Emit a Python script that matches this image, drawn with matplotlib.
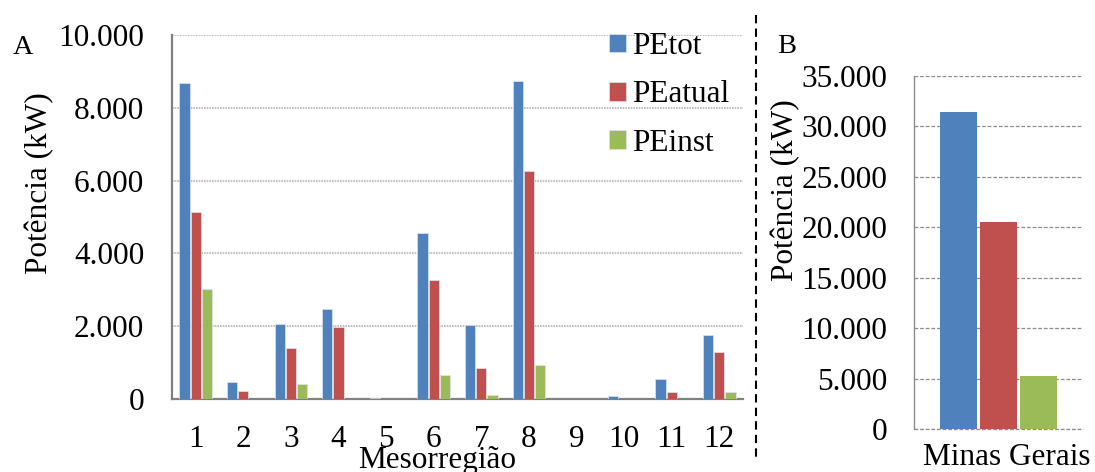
import numpy as np
import matplotlib
matplotlib.use("Agg")
import matplotlib.pyplot as plt
import matplotlib.transforms as mtransforms
from matplotlib.lines import Line2D
from matplotlib.ticker import FuncFormatter

# data
regioes = ["1", "2", "3", "4", "5", "6", "7", "8", "9", "10", "11", "12"]
pe_tot = [8680, 455, 2055, 2485, 40, 4565, 2045, 8740, 0, 90, 540, 1770]
pe_atual = [5130, 210, 1395, 1965, 0, 3260, 860, 6255, 0, 0, 185, 1295]
pe_inst = [3010, 0, 410, 0, 0, 655, 120, 940, 0, 0, 0, 200]
series_names = ["PEtot", "PEatual", "PEinst"]
mg_label = ["Minas Gerais"]
mg_tot = [31430]
mg_atual = [20540]
mg_inst = [5280]

colors = ["#4F81BD", "#C0504D", "#9BBB59"]

plt.rcParams.update({"font.family": "Liberation Serif", "font.size": 22.5})

W, H = 1095, 472
fig = plt.figure(figsize=(W / 100, H / 100), dpi=100)

def box(l, r, t, b):
    return [l / W, 1 - b / H, (r - l) / W, (b - t) / H]

def thousands(v, pos):
    return f"{v:,.0f}".replace(",", ".")

# ---- panel A
axA = fig.add_axes(box(172, 743, 35, 399))
x = np.arange(len(regioes))
step, bw = 0.235, 0.215
for i, vals in enumerate([pe_tot, pe_atual, pe_inst]):
    axA.bar(x + (i - 1) * step, vals, width=bw, color=colors[i],
            edgecolor="#DCE6F2", linewidth=0.5, label=series_names[i], zorder=3)
axA.set_xlim(-0.5, len(regioes) - 0.5)
axA.set_ylim(0, 10000)
axA.set_yticks(np.arange(0, 10001, 2000))
axA.yaxis.set_major_formatter(FuncFormatter(thousands))
axA.set_xticks(x)
axA.set_xticklabels(regioes)
axA.tick_params(axis="both", length=0)
axA.tick_params(axis="y", pad=20)
axA.tick_params(axis="x", pad=19)
axA.yaxis.grid(True, color="#B5B5B5", linestyle=(0, (1, 0.6)), linewidth=1.2, zorder=0)
for s in ["top", "right"]:
    axA.spines[s].set_visible(False)
for s in ["left", "bottom"]:
    axA.spines[s].set_color("#808080")
    axA.spines[s].set_linewidth(1.6)
axA.set_ylabel("Potência (kW)")
axA.yaxis.set_label_coords(-0.207, 0.592)
axA.set_xlabel("Mesorregião")
axA.xaxis.set_label_coords(0.464, -0.13)
axA.legend(loc="upper left", bbox_to_anchor=(609 / W, 1 - 32 / H),
           bbox_transform=fig.transFigure, frameon=False, borderpad=0,
           borderaxespad=0, handlelength=0.53, handleheight=0.53,
           handletextpad=0.22, labelspacing=0.62)

# ---- panel B
axB = fig.add_axes(box(914, 1083, 76, 429.3))
for i, vals in enumerate([mg_tot, mg_atual, mg_inst]):
    axB.bar(np.arange(1) + (i - 1) * 0.239, vals, width=0.219, color=colors[i], zorder=3)
axB.set_xlim(-0.5, 0.5)
axB.set_ylim(0, 35000)
axB.set_yticks(np.arange(0, 35001, 5000))
axB.yaxis.set_major_formatter(FuncFormatter(thousands))
axB.set_xticks([0])
axB.set_xticklabels(mg_label)
axB.tick_params(axis="both", length=0)
axB.tick_params(axis="y", pad=19)
axB.tick_params(axis="x", pad=10)
offset = mtransforms.ScaledTranslation(8 / 100, 0, fig.dpi_scale_trans)
for lab in axB.get_xticklabels():
    lab.set_transform(lab.get_transform() + offset)
axB.yaxis.grid(True, color="#8C8C8C", linestyle=(0, (3, 1.5)), linewidth=0.9, zorder=0)
for s in ["top", "right", "bottom"]:
    axB.spines[s].set_visible(False)
axB.spines["left"].set_color("#8C8C8C")
axB.spines["left"].set_linewidth(1.0)
axB.axhline(0, color="#8C8C8C", linestyle=(0, (3, 1.5)), linewidth=0.9, zorder=2, clip_on=False)
axB.set_ylabel("Potência (kW)")
axB.yaxis.set_label_coords(-0.675, 0.677)

# panel letters and separator
fig.text(13 / W, 1 - 35 / H, "A", ha="left", va="top", fontsize=20.5)
fig.text(777 / W, 1 - 34 / H, "B", ha="left", va="top", fontsize=20.5)
fig.add_artist(Line2D([756 / W, 756 / W], [1 - 15 / H, 1 - 457 / H],
                      color="black", linewidth=1.5, linestyle=(0, (4, 2.5))))

fig.savefig("out.png", dpi=100)
